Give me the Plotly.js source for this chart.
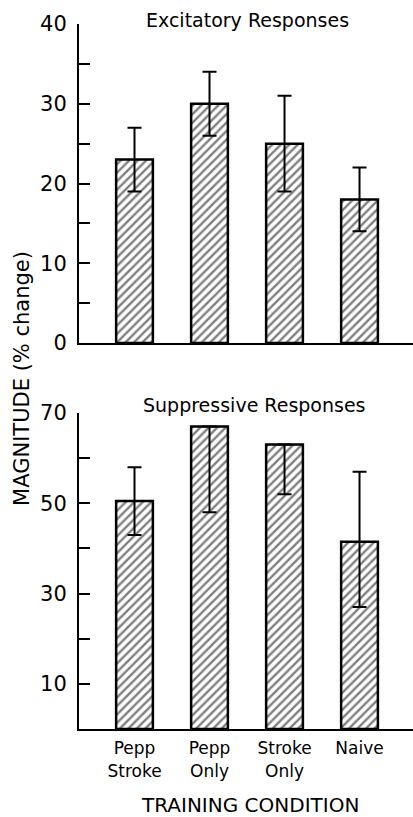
<!DOCTYPE html>
<html>
<head>
<meta charset="utf-8">
<script src="https://cdn.plot.ly/plotly-3.0.1.min.js"></script>
<style>html,body{margin:0;padding:0;background:#fff;}#chart{width:413px;height:817px;}</style>
</head>
<body>
<div id="chart"></div>
<script>
// Data
const categories = ["Pepp<br>Stroke", "Pepp<br>Only", "Stroke<br>Only", "Naive"];
const excitatoryValues = [23, 30, 25, 18];
const excitatoryErrPlus = [4, 4, 6, 4];
const excitatoryErrMinus = [4, 4, 6, 4];
const suppressiveValues = [50.5, 67, 63, 41.5];
const suppressiveErrPlus = [7.5, 0, 0, 15.5];
const suppressiveErrMinus = [7.5, 19, 11, 14.5];
const excitatoryTickVals = [0, 5, 10, 15, 20, 25, 30, 35, 40];
const excitatoryTickText = ["0", "", "10", "", "20", "", "30", "", "40"];
const suppressiveTickVals = [10, 20, 30, 40, 50, 60, 70];
const suppressiveTickText = ["10", "", "30", "", "50", "", "70"];
const topTitle = "Excitatory Responses";
const bottomTitle = "Suppressive Responses";
const yTitle = "MAGNITUDE (% change)";
const xTitle = "TRAINING CONDITION";

const FONT = "DejaVu Sans, Arial, sans-serif";
const xIdx = categories.map((_, i) => i);

function barTrace(vals, plus, minus, xa, ya) {
  return {
    type: "bar", x: xIdx, y: vals, xaxis: xa, yaxis: ya, width: 0.49,
    marker: {color: "#ffffff", line: {color: "#000", width: 2.5},
      pattern: {shape: "/", size: 6, solidity: 0.4, fgcolor: "#000", bgcolor: "#fff", fillmode: "overlay"}},
    error_y: {type: "data", symmetric: false, array: plus, arrayminus: minus,
      color: "#000", thickness: 2, width: 7},
    hoverinfo: "none", showlegend: false
  };
}

const data = [
  barTrace(excitatoryValues, excitatoryErrPlus, excitatoryErrMinus, "x", "y"),
  barTrace(suppressiveValues, suppressiveErrPlus, suppressiveErrMinus, "x2", "y2")
];

const xCommon = {range: [-0.74, 3.713], showgrid: false, zeroline: false, showline: true,
  linecolor: "#000", linewidth: 2, ticks: "", fixedrange: true};
const yCommon = {showgrid: false, zeroline: false, showline: true, linecolor: "#000", linewidth: 2,
  ticks: "inside", ticklen: 11, tickwidth: 2, tickcolor: "#000", tickmode: "array",
  ticklabelstandoff: 6, tickfont: {family: FONT, size: 21, color: "#000"}, fixedrange: true};

const layout = {
  width: 413, height: 817,
  margin: {l: 79, r: 0, t: 24, b: 88},
  paper_bgcolor: "#fff", plot_bgcolor: "#fff",
  font: {family: FONT, color: "#000"},
  xaxis: Object.assign({}, xCommon, {anchor: "y", showticklabels: false}),
  yaxis: Object.assign({}, yCommon, {domain: [0.5475, 1], range: [0, 40], anchor: "x",
    tickvals: excitatoryTickVals, ticktext: excitatoryTickText}),
  xaxis2: Object.assign({}, xCommon, {anchor: "y2", tickmode: "array", tickvals: xIdx, ticktext: categories,
    tickfont: {family: FONT, size: 17, color: "#000"}, ticklabelstandoff: 3}),
  yaxis2: Object.assign({}, yCommon, {domain: [0, 0.4482], range: [0, 70], anchor: "x2",
    tickvals: suppressiveTickVals, ticktext: suppressiveTickText}),
  annotations: [
    {text: topTitle, xref: "paper", yref: "paper", x: 0.503, y: 1.0057, xanchor: "center", yanchor: "middle",
      showarrow: false, font: {family: FONT, size: 19, color: "#000"}},
    {text: bottomTitle, xref: "paper", yref: "paper", x: 0.524, y: 0.4596, xanchor: "center", yanchor: "middle",
      showarrow: false, font: {family: FONT, size: 19, color: "#000"}},
    {text: yTitle, xref: "paper", yref: "paper", x: 0, xshift: -57, y: 0.4965, xanchor: "center", yanchor: "middle",
      textangle: -90, showarrow: false, font: {family: FONT, size: 21, color: "#000"}},
    {text: xTitle, xref: "paper", yref: "paper", x: 0.512, y: -0.1078, xanchor: "center", yanchor: "middle",
      showarrow: false, font: {family: FONT, size: 20, color: "#000"}}
  ]
};

Plotly.newPlot("chart", data, layout, {staticPlot: true});
</script>
</body>
</html>
